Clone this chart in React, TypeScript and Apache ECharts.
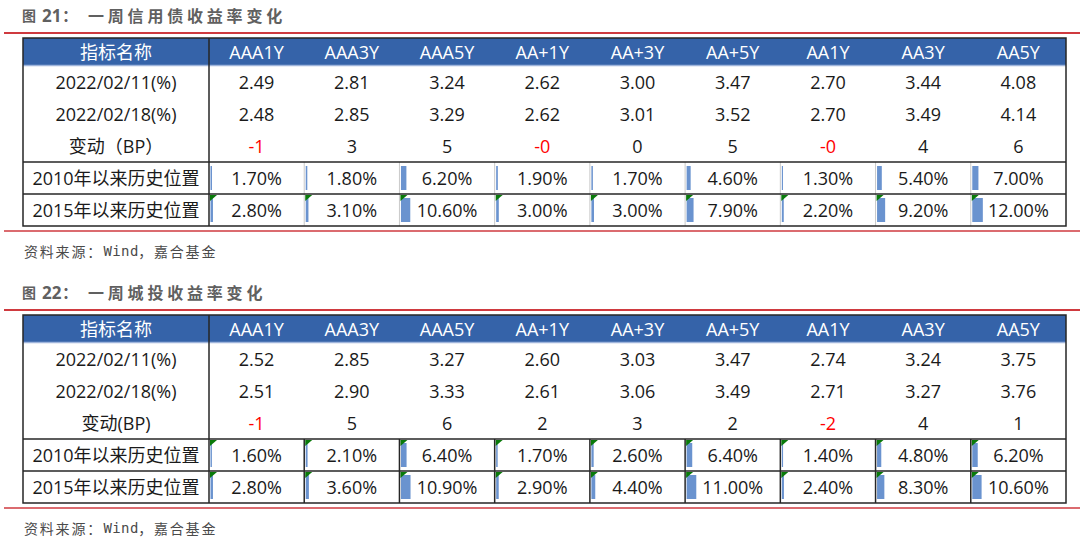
import React, { useEffect, useRef } from "react";
import * as echarts from "echarts";

const columns = ["AAA1Y", "AAA3Y", "AAA5Y", "AA+1Y", "AA+3Y", "AA+5Y", "AA1Y", "AA3Y", "AA5Y"];

const t1Title = ["图", "21", "一周信用债收益率变化"];
const t1RowLabels = ["2022/02/11(%)", "2022/02/18(%)", "变动（BP）", "2010年以来历史位置", "2015年以来历史位置"];
const t1Feb11 = [2.49, 2.81, 3.24, 2.62, 3.0, 3.47, 2.7, 3.44, 4.08];
const t1Feb18 = [2.48, 2.85, 3.29, 2.62, 3.01, 3.52, 2.7, 3.49, 4.14];
const t1Bp = ["-1", "3", "5", "-0", "0", "5", "-0", "4", "6"];
const t1Pos2010 = [1.7, 1.8, 6.2, 1.9, 1.7, 4.6, 1.3, 5.4, 7.0];
const t1Pos2015 = [2.8, 3.1, 10.6, 3.0, 3.0, 7.9, 2.2, 9.2, 12.0];

const t2Title = ["图", "22", "一周城投收益率变化"];
const t2RowLabels = ["2022/02/11(%)", "2022/02/18(%)", "变动(BP)", "2010年以来历史位置", "2015年以来历史位置"];
const t2Feb11 = [2.52, 2.85, 3.27, 2.6, 3.03, 3.47, 2.74, 3.24, 3.75];
const t2Feb18 = [2.51, 2.9, 3.33, 2.61, 3.06, 3.49, 2.71, 3.27, 3.76];
const t2Bp = ["-1", "5", "6", "2", "3", "2", "-2", "4", "1"];
const t2Pos2010 = [1.6, 2.1, 6.4, 1.7, 2.6, 6.4, 1.4, 4.8, 6.2];
const t2Pos2015 = [2.8, 3.6, 10.9, 2.9, 4.4, 11.0, 2.4, 8.3, 10.6];

const sourceText = "资料来源：Wind，嘉合基金";

const CJK = "'Noto Sans CJK SC', 'Microsoft YaHei', sans-serif";
const FONT = "'Open Sans', 'Noto Sans CJK SC', sans-serif";

type TableCfg = {
  title: string[];
  labels: string[];
  feb11: number[];
  feb18: number[];
  bp: string[];
  pos2010: number[];
  pos2015: number[];
  top: number;
  darkGrid: boolean;
  tri2010: boolean;
};

const leftText = (text: string, x: number, y: number, fill: string, font: string) => ({
  type: "text",
  style: { text, x, y, fill, font, textAlign: "left", align: "left", textVerticalAlign: "middle", verticalAlign: "middle" },
});

function buildTable(cfg: TableCfg): any[] {
  const els: any[] = [];
  const left = 23;
  const right = 1066;
  const col0 = 209;
  const colW = (right - col0) / columns.length;
  const headerH = 28;
  const rowH = 32;
  const top = cfg.top;
  const bottom = top + headerH + rowH * 5;
  const dark = "#262626";
  const titleColor = "#606060";

  // title
  els.push(leftText(cfg.title[0], 22, top - 23, titleColor, `bold 14px ${CJK}`));
  els.push(leftText(cfg.title[1], 42, top - 23, titleColor, `bold 17px 'Open Sans', sans-serif`));
  els.push(leftText("：", 62, top - 23, titleColor, `bold 16px ${CJK}`));
  Array.from(cfg.title[2]).forEach((ch, i) => {
    els.push(leftText(ch, 88 + i * 19.8, top - 23, titleColor, `bold 16px ${CJK}`));
  });
  // red lines
  els.push({ type: "line", shape: { x1: 4, y1: top - 5, x2: 1080, y2: top - 5 }, style: { stroke: "#cf3a3f", lineWidth: 2 } });
  els.push({ type: "line", shape: { x1: 4, y1: bottom + 5, x2: 1080, y2: bottom + 5 }, style: { stroke: "#cf3a3f", lineWidth: 1.5 } });
  // source (fixed pitch, like the reference's monospaced Song font)
  let sx = 24;
  Array.from(sourceText).forEach((ch) => {
    const ascii = ch.charCodeAt(0) < 128;
    els.push(leftText(ch, sx + (ascii ? 0.5 : 0), bottom + 25, "#4a4a4a", `14px ${ascii ? "'DejaVu Sans Mono', monospace" : CJK}`));
    sx += ascii ? 8.8 : 15.8;
  });

  // header
  els.push({ type: "rect", shape: { x: left, y: top, width: right - left, height: headerH }, style: { fill: "#3563a9" } });
  els.push({ type: "line", shape: { x1: left, y1: top + headerH - 0.5, x2: right, y2: top + headerH - 0.5 }, style: { stroke: "#9fb5dc", lineWidth: 1.5 } });

  const textStyle = (text: string, x: number, y: number, fill: string) => ({
    type: "text",
    style: { text, x, y, fill, font: `18px ${FONT}`, textAlign: "center", align: "center", textVerticalAlign: "middle", verticalAlign: "middle" },
  });

  els.push(textStyle("指标名称", (left + col0) / 2, top + headerH / 2, "#ffffff"));
  columns.forEach((c, i) => els.push(textStyle(c, col0 + colW * (i + 0.5), top + headerH / 2, "#ffffff")));

  const rowY = (r: number) => top + headerH + rowH * r;
  cfg.labels.forEach((l, r) => els.push(textStyle(l, (left + col0) / 2, rowY(r) + rowH / 2, "#1a1a1a")));

  const numRows = [cfg.feb11, cfg.feb18];
  numRows.forEach((arr, r) => {
    arr.forEach((v, i) => els.push(textStyle(v.toFixed(2), col0 + colW * (i + 0.5), rowY(r) + rowH / 2, "#1a1a1a")));
  });
  cfg.bp.forEach((v, i) => {
    const neg = v.startsWith("-");
    els.push(textStyle(v, col0 + colW * (i + 0.5), rowY(2) + rowH / 2, neg ? "#ff0000" : "#1a1a1a"));
  });

  const posRows = [cfg.pos2010, cfg.pos2015];
  posRows.forEach((arr, k) => {
    const r = 3 + k;
    const y0 = rowY(r);
    arr.forEach((v, i) => {
      const cx = col0 + colW * i;
      els.push({
        type: "rect",
        shape: { x: cx + 1.5, y: y0 + 4, width: Math.max(1, v * 0.88), height: rowH - 8 },
        style: { fill: "#6a93cf" },
      });
      const hasTri = k === 1 || cfg.tri2010;
      if (hasTri) {
        els.push({
          type: "polygon",
          shape: { points: [[cx + 1, y0 + 1], [cx + 8, y0 + 1], [cx + 1, y0 + 7]] },
          style: { fill: "#0a7a0a" },
        });
      }
      els.push(textStyle(v.toFixed(2) + "%", cx + colW / 2, y0 + rowH / 2, "#1a1a1a"));
    });
  });

  // grid lines
  for (let i = 1; i < columns.length; i++) {
    const x = col0 + colW * i;
    els.push({
      type: "line",
      shape: { x1: x, y1: rowY(3), x2: x, y2: bottom },
      style: cfg.darkGrid ? { stroke: dark, lineWidth: 1.5 } : { stroke: "#c9c9c9", lineWidth: 1 },
    });
  }
  els.push({ type: "line", shape: { x1: left, y1: rowY(3), x2: right, y2: rowY(3) }, style: { stroke: dark, lineWidth: 1.5 } });
  els.push({ type: "line", shape: { x1: left, y1: rowY(4), x2: right, y2: rowY(4) }, style: { stroke: dark, lineWidth: 1.5 } });
  els.push({ type: "line", shape: { x1: col0, y1: top, x2: col0, y2: bottom }, style: { stroke: dark, lineWidth: 1.5 } });
  els.push({
    type: "rect",
    shape: { x: left, y: top, width: right - left, height: bottom - top },
    style: { fill: "none", stroke: dark, lineWidth: 1.5 },
  });
  return els;
}

export default function App() {
  const ref = useRef<HTMLDivElement>(null);
  useEffect(() => {
    if (!ref.current) return;
    const chart = echarts.init(ref.current, undefined, { renderer: "svg" });
    const elements = [
      ...buildTable({
        title: t1Title, labels: t1RowLabels, feb11: t1Feb11, feb18: t1Feb18, bp: t1Bp,
        pos2010: t1Pos2010, pos2015: t1Pos2015, top: 38, darkGrid: false, tri2010: false,
      }),
      ...buildTable({
        title: t2Title, labels: t2RowLabels, feb11: t2Feb11, feb18: t2Feb18, bp: t2Bp,
        pos2010: t2Pos2010, pos2015: t2Pos2015, top: 315, darkGrid: true, tri2010: true,
      }),
    ];
    chart.setOption({
      animation: false,
      backgroundColor: "#ffffff",
      graphic: { elements },
    });
    return () => chart.dispose();
  }, []);
  return (
    <div
      ref={ref}
      style={{ position: "fixed", left: 0, top: 0, width: 1080, height: 540, background: "#fff" }}
    />
  );
}
